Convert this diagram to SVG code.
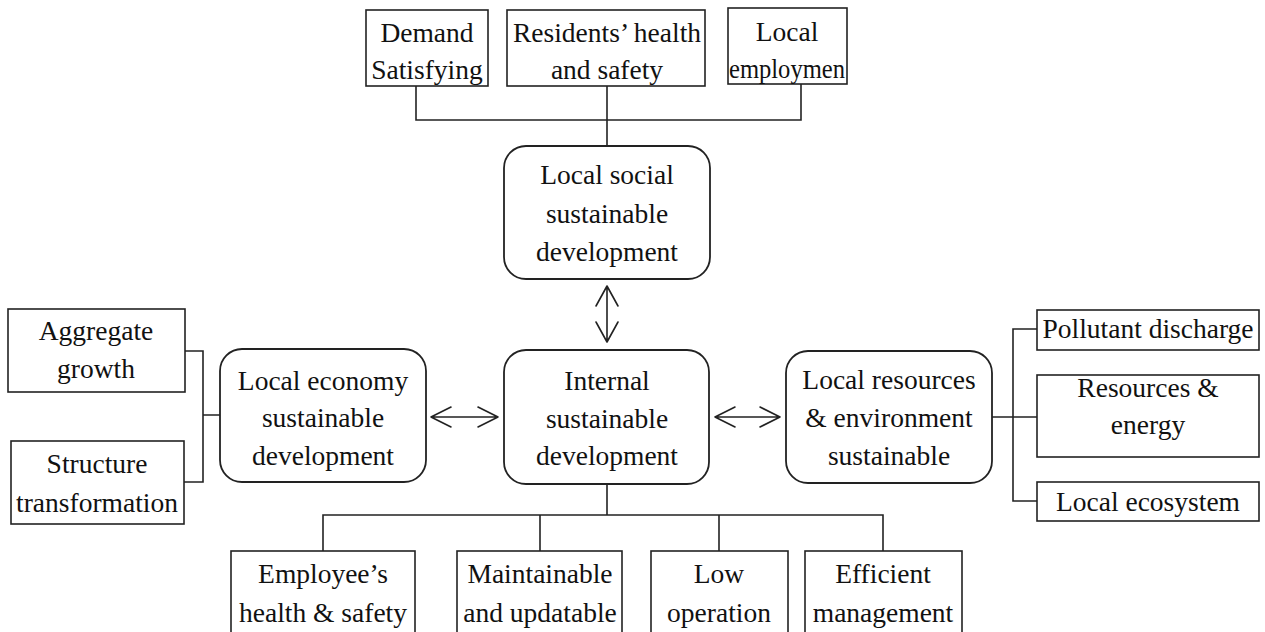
<svg xmlns="http://www.w3.org/2000/svg" width="1265" height="632" viewBox="0 0 1265 632">
<style>
.box{fill:#fff;stroke:#222;stroke-width:1.6}
.rbox{fill:#fff;stroke:#222;stroke-width:1.8}
.ln{fill:none;stroke:#222;stroke-width:1.6}
.arr{fill:none;stroke:#222;stroke-width:1.6;stroke-linecap:round;stroke-linejoin:round}
text{font-family:"Liberation Serif","Times New Roman",serif;font-size:27.5px;fill:#111;text-anchor:middle}
</style>
<rect width="1265" height="632" fill="#fff"/>
<g id="connectors">
<path class="ln" d="M416 86V120H801V84M607 86V146"/>
<path class="ln" d="M185 351H203V482H184M203 415H220"/>
<path class="ln" d="M992 417H1037M1037 329H1013V501H1037"/>
<path class="ln" d="M607 484V515M323 551V515H883V551M540 515V551M719 515V551"/>
<path class="arr" d="M607 286V342M596 306L607 286L618 306M596 322L607 342L618 322"/>
<path class="arr" d="M431 417H498M451 407L431 417L451 427M478 407L498 417L478 427"/>
<path class="arr" d="M715 417H780M735 407L715 417L735 427M760 407L780 417L760 427"/>
</g>
<g id="demand"><rect class="box" x="366" y="10" width="122" height="76"/><text x="427" y="42">Demand</text><text x="427" y="79">Satisfying</text></g>
<g id="residents"><rect class="box" x="507" y="10" width="198" height="76"/><text x="607" y="42">Residents’ health</text><text x="607" y="79">and safety</text></g>
<g id="employment"><rect class="box" x="728" y="8" width="119" height="76"/><text x="787" y="41">Local</text><text x="787" y="78" textLength="116" lengthAdjust="spacingAndGlyphs">employmen</text></g>
<g id="social"><rect class="rbox" x="504" y="146" width="206" height="133" rx="22"/><text x="607" y="184">Local social</text><text x="607" y="223">sustainable</text><text x="607" y="261">development</text></g>
<g id="internal"><rect class="rbox" x="504" y="350" width="205" height="134" rx="22"/><text x="607" y="390">Internal</text><text x="607" y="428">sustainable</text><text x="607" y="465">development</text></g>
<g id="economy"><rect class="rbox" x="220" y="349" width="206" height="133" rx="22"/><text x="323" y="390">Local economy</text><text x="323" y="427">sustainable</text><text x="323" y="465">development</text></g>
<g id="resources"><rect class="rbox" x="786" y="351" width="206" height="132" rx="22"/><text x="889" y="389">Local resources</text><text x="889" y="427">&amp; environment</text><text x="889" y="465">sustainable</text></g>
<g id="aggregate"><rect class="box" x="8" y="309" width="177" height="83"/><text x="96" y="340">Aggregate</text><text x="96" y="378">growth</text></g>
<g id="structure"><rect class="box" x="11" y="441" width="173" height="83"/><text x="97" y="473">Structure</text><text x="97" y="512">transformation</text></g>
<g id="pollutant"><rect class="box" x="1037" y="310" width="222" height="40"/><text x="1148" y="338">Pollutant discharge</text></g>
<g id="energy"><rect class="box" x="1037" y="375" width="222" height="82"/><text x="1148" y="397">Resources &amp;</text><text x="1148" y="434">energy</text></g>
<g id="ecosystem"><rect class="box" x="1037" y="482" width="222" height="39"/><text x="1148" y="511">Local ecosystem</text></g>
<g id="employee"><rect class="box" x="231" y="551" width="184" height="90"/><text x="323" y="583">Employee’s</text><text x="323" y="622">health &amp; safety</text></g>
<g id="maintainable"><rect class="box" x="457" y="551" width="165" height="90"/><text x="540" y="583">Maintainable</text><text x="540" y="622">and updatable</text></g>
<g id="low"><rect class="box" x="651" y="551" width="137" height="90"/><text x="719" y="583">Low</text><text x="719" y="622">operation</text></g>
<g id="efficient"><rect class="box" x="805" y="551" width="157" height="90"/><text x="883" y="583">Efficient</text><text x="883" y="622">management</text></g>
</svg>
